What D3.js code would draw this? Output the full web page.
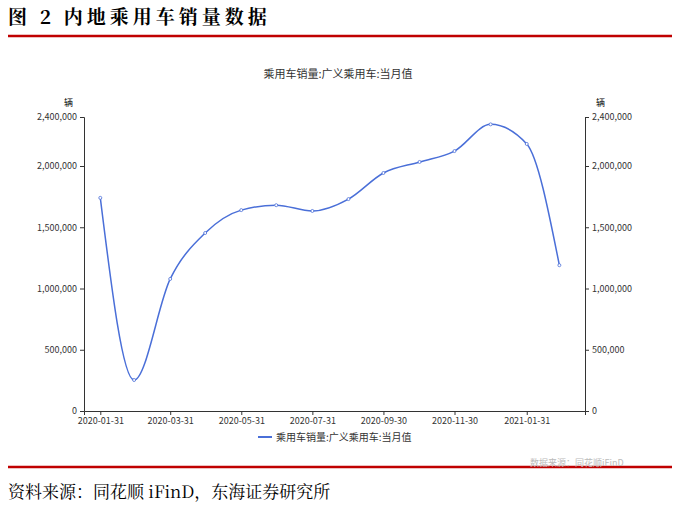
<!DOCTYPE html><html><head><meta charset="utf-8">
<script src="https://cdn.jsdelivr.net/npm/d3@7"></script>
<style>body{margin:0;background:#fff}</style></head><body>
<svg id="c" width="677" height="513"></svg>
<script>
const dates=["2020-01-31","2020-02-29","2020-03-31","2020-04-30","2020-05-31","2020-06-30","2020-07-31","2020-08-31","2020-09-30","2020-10-31","2020-11-30","2020-12-31","2021-01-31","2021-02-28"];
const sales=[1740000,253000,1078000,1453000,1640000,1680000,1633000,1730000,1943000,2033000,2122000,2340000,2180000,1190000];
const xTicks=["2020-01-31","2020-03-31","2020-05-31","2020-07-31","2020-09-30","2020-11-30","2021-01-31"];
const yTicks=[0,500000,1000000,1500000,2000000,2400000];
const p=d3.timeParse("%Y-%m-%d");
const svg=d3.select("#c");
const serif="'Noto Serif CJK SC','Noto Sans CJK SC',serif";
svg.append("text").attr("x",8).attr("y",24).attr("font-family",serif).attr("font-size",19).attr("font-weight","bold").attr("letter-spacing",4).text("图 2 内地乘用车销量数据");
svg.append("line").attr("x1",8).attr("x2",672).attr("y1",36).attr("y2",36).attr("stroke","#c00000").attr("stroke-width",2.5);
svg.append("line").attr("x1",8).attr("x2",672).attr("y1",467).attr("y2",467).attr("stroke","#c00000").attr("stroke-width",2.5);
svg.append("text").attr("x",8).attr("y",498).attr("font-family",serif).attr("font-size",17).text("资料来源：同花顺 iFinD，东海证券研究所");
svg.append("text").attr("x",530).attr("y",466).attr("font-family","Noto Sans CJK SC").attr("font-size",9).attr("fill","#bbb").text("数据来源：同花顺iFinD");
const x=d3.scaleTime().domain([p("2020-01-17"),p("2021-03-22")]).range([84,585]);
const y=d3.scaleLinear().domain([0,2400000]).range([411,117]);
const f=d3.format(",");
const font="'Noto Sans CJK SC',sans-serif";
const ax=svg.append("g").attr("transform","translate(0,411)").call(d3.axisBottom(x).tickValues(xTicks.map(p)).tickFormat(d3.timeFormat("%Y-%m-%d")).tickSize(4));
const ayl=svg.append("g").attr("transform","translate(84,0)").call(d3.axisLeft(y).tickValues(yTicks).tickFormat(f).tickSize(4));
const ayr=svg.append("g").attr("transform","translate(585,0)").call(d3.axisRight(y).tickValues(yTicks).tickFormat(f).tickSize(4));
[ax,ayl,ayr].forEach(g=>{g.selectAll("path,line").attr("stroke","#333");g.selectAll("text").attr("font-family",font).attr("font-size",9).attr("fill","#333");});
svg.append("text").attr("x",64).attr("y",106).attr("font-family",font).attr("font-size",9).text("辆");
svg.append("text").attr("x",596).attr("y",106).attr("font-family",font).attr("font-size",9).text("辆");
svg.append("text").attr("x",338).attr("y",78).attr("text-anchor","middle").attr("font-family",font).attr("font-size",11).attr("fill","#333").text("乘用车销量:广义乘用车:当月值");
const data=dates.map((d,i)=>({d:p(d),v:sales[i]}));
svg.append("path").datum(data).attr("fill","none").attr("stroke","#4a6fd8").attr("stroke-width",1.5)
 .attr("d",d3.line().x(d=>x(d.d)).y(d=>y(d.v)).curve(d3.curveMonotoneX));
svg.selectAll("circle").data(data).join("circle").attr("cx",d=>x(d.d)).attr("cy",d=>y(d.v)).attr("r",1.5).attr("fill","#fff").attr("stroke","#4a6fd8").attr("stroke-width",0.8);
svg.append("line").attr("x1",258).attr("x2",272).attr("y1",437).attr("y2",437).attr("stroke","#4a6fd8").attr("stroke-width",2);
svg.append("text").attr("x",276).attr("y",441).attr("font-family",font).attr("font-size",10).attr("fill","#333").text("乘用车销量:广义乘用车:当月值");
</script></body></html>
